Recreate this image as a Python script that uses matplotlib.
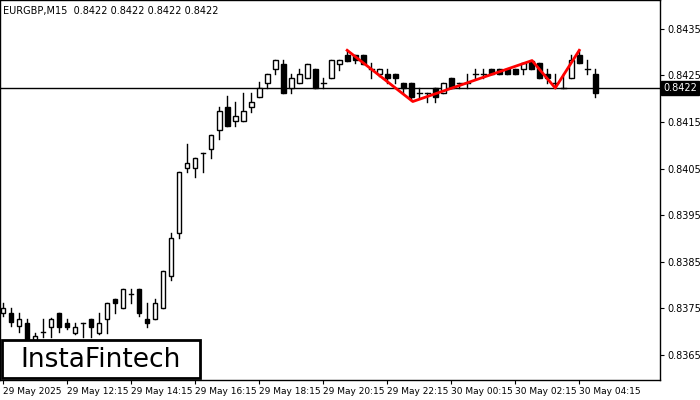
import matplotlib
matplotlib.use("Agg")
import matplotlib.pyplot as plt
from matplotlib.patches import Rectangle

opens = [.83739,.83739,.83711,.83719,.83682,.83700,.83709,.83739,.83719,.83697,.83719,.83728,.83697,.83728,.83769,.83750,.83781,.83791,.83728,.83728,
         .83750,.83820,.83911,.84051,.84051,.84083,.84092,.84133,.84182,.84153,.84153,.84183,.84203,.84233,.84263,.84275,.84223,.84233,.84244,.84263,
         .84233,.84244,.84275,.84294,.84294,.84294,.84264,.84253,.84253,.84253,.84233,.84233,.84212,.84212,.84223,.84212,.84244,.84233,.84233,.84253,
         .84253,.84264,.84264,.84264,.84264,.84264,.84282,.84276,.84253,.84233,.84223,.84244,.84294,.84264,.84253]
highs = [.83761,.83750,.83739,.83728,.83697,.83728,.83730,.83740,.83728,.83719,.83719,.83728,.83739,.83761,.83769,.83791,.83791,.83791,.83761,.83769,
         .83830,.83911,.84042,.84102,.84072,.84083,.84122,.84183,.84205,.84194,.84213,.84213,.84235,.84253,.84283,.84283,.84253,.84263,.84275,.84263,
         .84244,.84283,.84283,.84305,.84294,.84294,.84276,.84264,.84264,.84253,.84233,.84233,.84223,.84212,.84223,.84233,.84244,.84233,.84253,.84264,
         .84264,.84264,.84264,.84264,.84264,.84276,.84282,.84276,.84264,.84253,.84253,.84294,.84305,.84283,.84264]
lows = [.83733,.83711,.83700,.83675,.83680,.83689,.83689,.83700,.83705,.83695,.83689,.83689,.83695,.83697,.83739,.83750,.83761,.83733,.83709,.83728,
        .83750,.83811,.83900,.84042,.84032,.84042,.84072,.84113,.84142,.84142,.84153,.84172,.84203,.84223,.84253,.84212,.84212,.84233,.84244,.84223,
        .84223,.84244,.84262,.84282,.84276,.84275,.84244,.84248,.84233,.84233,.84212,.84198,.84203,.84194,.84194,.84212,.84223,.84223,.84223,.84244,
        .84244,.84253,.84253,.84253,.84253,.84253,.84264,.84244,.84233,.84223,.84223,.84244,.84276,.84253,.84203]
closes = [.83750,.83721,.83728,.83682,.83690,.83700,.83728,.83709,.83709,.83709,.83719,.83709,.83719,.83761,.83761,.83791,.83781,.83739,.83719,.83761,
          .83830,.83900,.84042,.84061,.84072,.84083,.84122,.84174,.84142,.84163,.84174,.84194,.84223,.84253,.84283,.84212,.84244,.84253,.84275,.84223,
          .84233,.84283,.84283,.84282,.84283,.84275,.84264,.84264,.84244,.84244,.84223,.84203,.84212,.84212,.84203,.84233,.84223,.84233,.84233,.84253,
          .84253,.84253,.84253,.84253,.84253,.84276,.84264,.84244,.84244,.84233,.84223,.84283,.84276,.84264,.84212]
pattern_idx = [43, 51.2, 66.1, 69, 72]
pattern_px = [.84304, .84194, .84282, .84223, .84304]
current = 0.84223
yticks = [0.8435, 0.8425, 0.8415, 0.8405, 0.8395, 0.8385, 0.8375, 0.8365]
xtick_idx = [0, 8, 16, 24, 32, 40, 48, 56, 64, 72]
xtick_labels = ["29 May 2025", "29 May 12:15", "29 May 14:15", "29 May 16:15", "29 May 18:15",
                "29 May 20:15", "29 May 22:15", "30 May 00:15", "30 May 02:15", "30 May 04:15"]

fig = plt.figure(figsize=(7, 4), dpi=100)
ax = fig.add_axes([0.0, 0.05, 0.943, 0.95])
w = 0.6
for i, (o, h, l, c) in enumerate(zip(opens, highs, lows, closes)):
    ax.plot([i, i], [l, h], color="black", lw=1, zorder=2)
    lo, hi = min(o, c), max(o, c)
    if hi - lo < 0.000015:
        ax.plot([i - w/2, i + w/2], [o, o], color="black", lw=1, zorder=3)
    else:
        ax.add_patch(Rectangle((i - w/2, lo), w, hi - lo, facecolor="black" if c < o else "white",
                               edgecolor="black", lw=1, zorder=3))
ax.axhline(current, color="black", lw=1, zorder=1)
ax.plot(pattern_idx, pattern_px, color="#ff0000", lw=2, zorder=4)

ax.set_xlim(-0.375, 82.1)
ax.set_ylim(0.83596, 0.84412)
ax.yaxis.tick_right()
ax.set_yticks(yticks)
ax.set_yticklabels([f"{v:.4f}" for v in yticks], fontsize=7)
ax.set_xticks(xtick_idx)
ax.set_xticklabels(xtick_labels, fontsize=6.5, ha="left")
ax.tick_params(length=3, pad=2)
for s in ax.spines.values():
    s.set_linewidth(1)
ax.text(0.005, 0.985, "EURGBP,M15  0.8422 0.8422 0.8422 0.8422", transform=ax.transAxes,
        fontsize=7, va="top", ha="left")
ax.text(1.005, current, "0.8422", transform=ax.get_yaxis_transform(), fontsize=7, va="center",
        ha="left", color="white", bbox=dict(facecolor="black", edgecolor="black", pad=1.5), clip_on=False)

fig.patches.append(Rectangle((2/700, 1 - 378/400), 198/700, 38/400, transform=fig.transFigure,
                             facecolor="white", edgecolor="black", lw=2, zorder=10))
fig.text(101/700, 1 - 360/400, "InstaFintech", fontsize=19, ha="center", va="center", zorder=11)
fig.savefig("out.png", dpi=100)
